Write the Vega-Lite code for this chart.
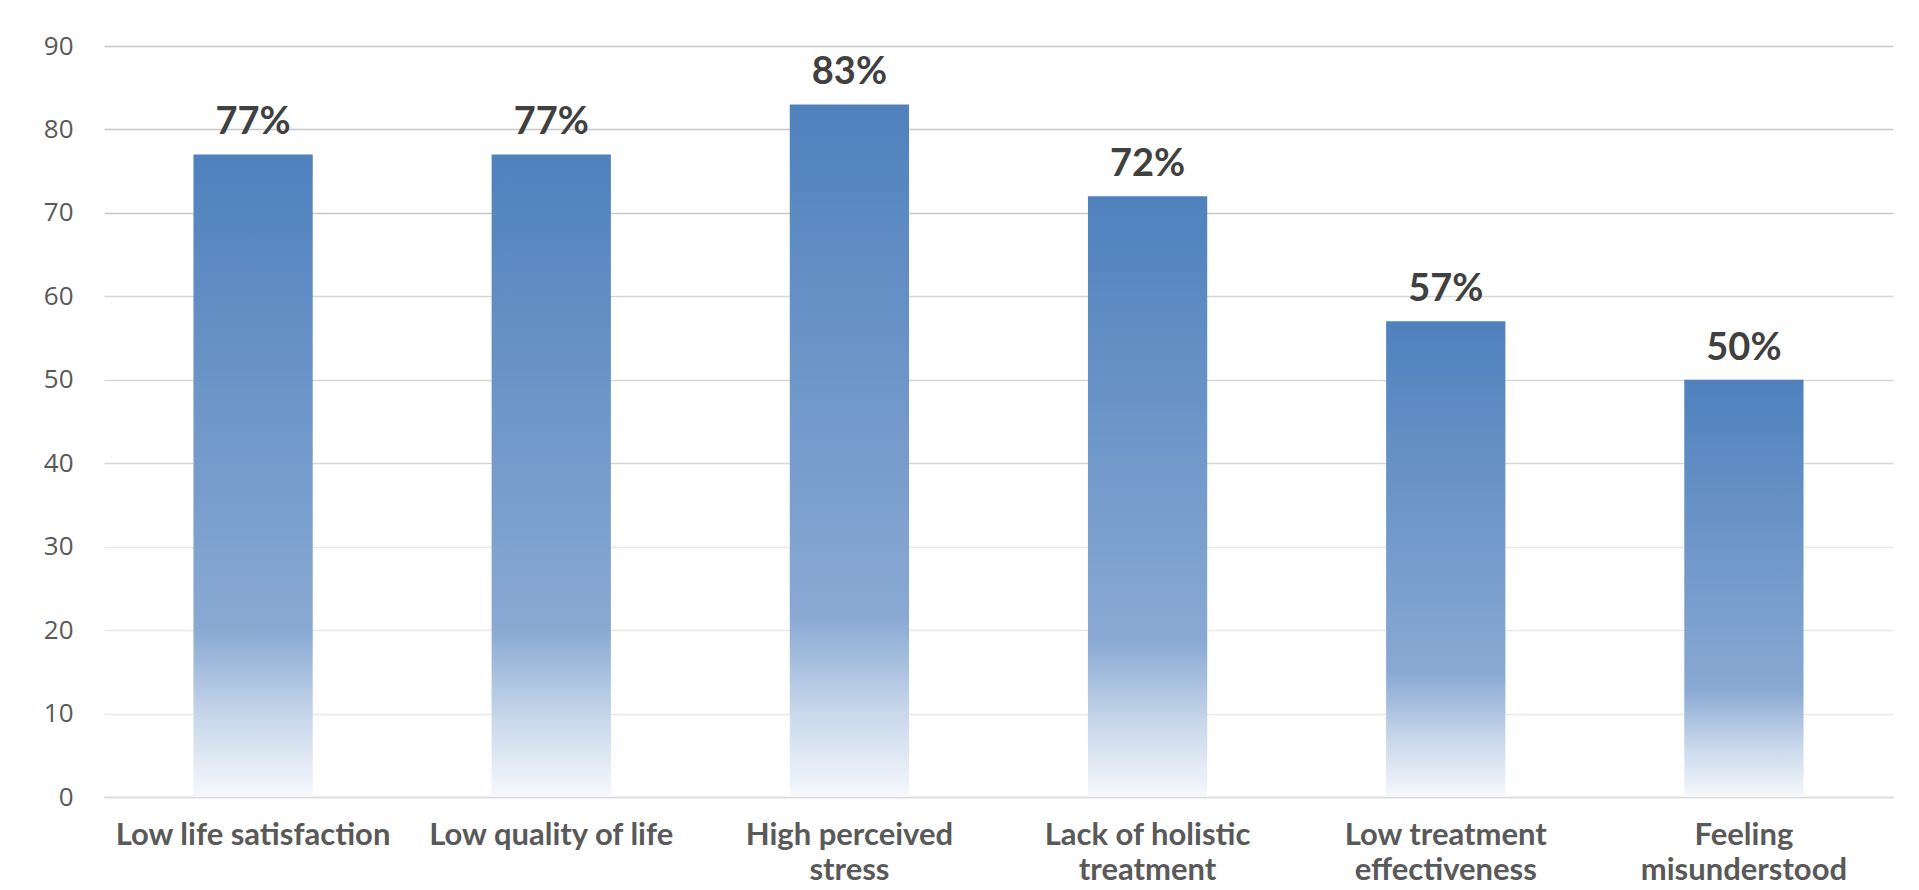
{
  "$schema": "https://vega.github.io/schema/vega-lite/v6.json",
  "width": 1789,
  "height": 751,
  "autosize": "none",
  "padding": {"left": 104, "top": 46, "right": 26, "bottom": 93},
  "background": "#ffffff",
  "config": {"view": {"stroke": null}},
  "data": {
    "values": [
      {"category": "Low life satisfaction", "value": 77, "label": "77%"},
      {"category": "Low quality of life", "value": 77, "label": "77%"},
      {"category": "High perceived|stress", "value": 83, "label": "83%"},
      {"category": "Lack of holistic|treatment", "value": 72, "label": "72%"},
      {"category": "Low treatment|effectiveness", "value": 57, "label": "57%"},
      {"category": "Feeling|misunderstood", "value": 50, "label": "50%"}
    ]
  },
  "encoding": {
    "x": {
      "field": "category",
      "type": "nominal",
      "sort": null,
      "scale": {"paddingInner": 0.6, "paddingOuter": 0.3},
      "axis": {
        "title": null,
        "labelAngle": 0,
        "labelExpr": "split(datum.label, '|')",
        "labelFont": "Lato",
        "labelFontWeight": "bold",
        "labelFontSize": 31,
        "labelLineHeight": 35,
        "labelColor": "#595959",
        "labelPadding": 23,
        "labelLimit": 0,
        "labelOverlap": false,
        "labelBound": false,
        "ticks": false,
        "domain": true,
        "domainColor": "#D9D9D9",
        "domainWidth": 1.5,
        "grid": false
      }
    },
    "y": {
      "field": "value",
      "type": "quantitative",
      "scale": {"domain": [0, 90], "nice": false},
      "axis": {
        "title": null,
        "values": [0, 10, 20, 30, 40, 50, 60, 70, 80, 90],
        "labelFont": "Open Sans",
        "labelFontSize": 26,
        "labelColor": "#595959",
        "labelPadding": 31,
        "ticks": false,
        "domain": false,
        "grid": true,
        "gridWidth": 1.3,
        "gridColor": {
          "condition": [
            {"test": "datum.value == 0", "value": "#D9D9D9"},
            {"test": "datum.value >= 70", "value": "#C8C8C8"},
            {"test": "datum.value >= 40", "value": "#D6D6D6"}
          ],
          "value": "#E8E8E8"
        }
      }
    }
  },
  "layer": [
    {
      "mark": {
        "type": "bar",
        "color": {
          "gradient": "linear",
          "x1": 0, "y1": 0, "x2": 0, "y2": 1,
          "stops": [
            {"offset": 0, "color": "#4F81BD"},
            {"offset": 0.74, "color": "#89A9D3"},
            {"offset": 0.88, "color": "#C9D8EB"},
            {"offset": 1, "color": "#F6F8FC"}
          ]
        }
      }
    },
    {
      "mark": {
        "type": "text",
        "font": "Lato",
        "fontWeight": "bold",
        "fontSize": 38,
        "color": "#404040",
        "baseline": "alphabetic",
        "dy": -20
      },
      "encoding": {"text": {"field": "label"}}
    }
  ]
}
